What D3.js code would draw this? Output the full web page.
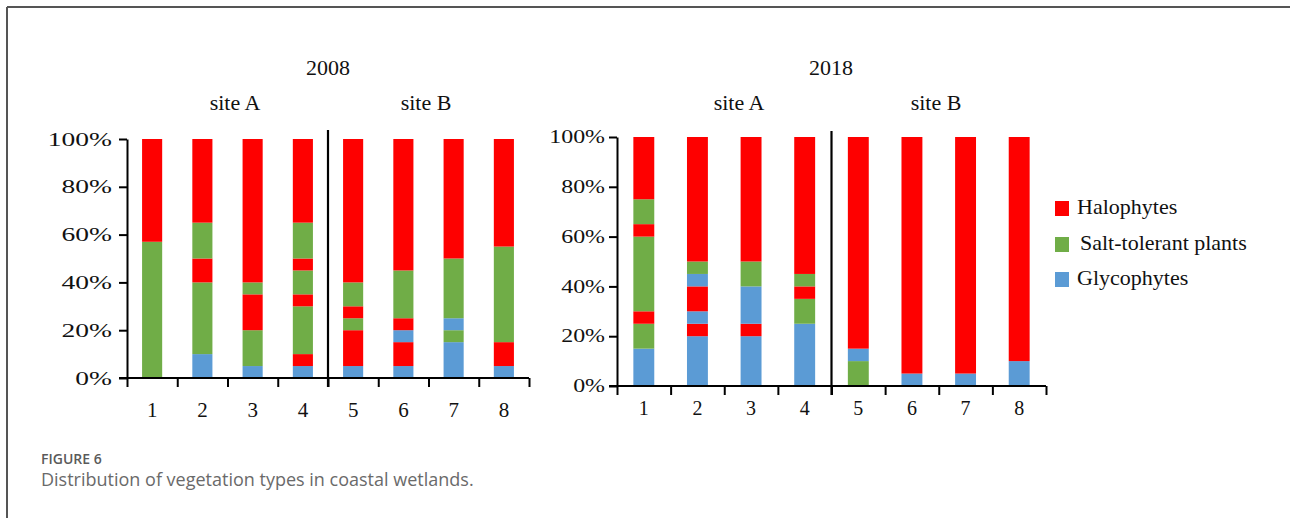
<!DOCTYPE html>
<html>
<head>
<meta charset="utf-8">
<script src="https://cdn.jsdelivr.net/npm/d3@7"></script>
<style>
body{margin:0;background:#fff;}
svg{display:block;}
.serif{font-family:"Liberation Serif","Times New Roman",serif;fill:#111;}
.cap{font-family:"Open Sans","Noto Sans",sans-serif;}
</style>
</head>
<body>
<div id="fig"></div>
<script>
// donnees (% de chaque bande, du bas vers le haut)
const categories = ["1","2","3","4","5","6","7","8"];
const years = ["2008","2018"];
const sites = ["site A","site B"];
const yTicks = [0,20,40,60,80,100];
const types = ["Halophytes","Salt-tolerant plants","Glycophytes"];
const codes = ["H","S","G"];

const bars2008 = [
    [["S",57],["H",43]],
    [["G",10],["S",30],["H",10],["S",15],["H",35]],
    [["G",5],["S",15],["H",15],["S",5],["H",60]],
    [["G",5],["H",5],["S",20],["H",5],["S",10],["H",5],["S",15],["H",35]],
    [["G",5],["H",15],["S",5],["H",5],["S",10],["H",60]],
    [["G",5],["H",10],["G",5],["H",5],["S",20],["H",55]],
    [["G",15],["S",5],["G",5],["S",25],["H",50]],
    [["G",5],["H",10],["S",40],["H",45]]
];
const bars2018 = [
    [["G",15],["S",10],["H",5],["S",30],["H",5],["S",10],["H",25]],
    [["G",20],["H",5],["G",5],["H",10],["G",5],["S",5],["H",50]],
    [["G",20],["H",5],["G",15],["S",10],["H",50]],
    [["G",25],["S",10],["H",5],["S",5],["H",55]],
    [["S",10],["G",5],["H",85]],
    [["G",5],["H",95]],
    [["G",5],["H",95]],
    [["G",10],["H",90]]
];

const couleurs = {H:"#fe0000",S:"#70ad47",G:"#5b9bd5"};
const serif = '"Liberation Serif","Times New Roman",serif';

const svg = d3.select("#fig").append("svg").attr("width",1290).attr("height",518);

// cadre de la page
svg.append("line").attr("x1",7).attr("x2",1290).attr("y1",7).attr("y2",7).attr("stroke","#555").attr("stroke-width",2);
svg.append("line").attr("x1",7).attr("x2",7).attr("y1",7).attr("y2",518).attr("stroke","#555").attr("stroke-width",2);

function cumul(segs){ // transforme les hauteurs en [debut,fin]
    let base = 0, res = [];
    for(let s of segs){
        res.push({code:s[0],y0:base,y1:base+s[1]});
        base += s[1];
    }
    return res;
}

function dessinePanneau(p){
    let x = d3.scaleBand().domain(categories).range([p.x0,p.x1]);
    let xl = d3.scaleLinear().domain([0,categories.length]).range([p.x0,p.x1]);
    let y = d3.scaleLinear().domain([0,100]).range([p.yb,p.yt]);
    let g = svg.append("g");
    let bw = x.bandwidth()*p.bar;

    p.data.forEach((segs,i)=>{
        let cat = categories[i];
        g.selectAll(null).data(cumul(segs)).enter().append("rect")
            .attr("x",x(cat)+(x.bandwidth()-bw)/2)
            .attr("width",bw)
            .attr("y",d=>y(d.y1))
            .attr("height",d=>y(d.y0)-y(d.y1))
            .attr("fill",d=>couleurs[d.code]);
    });

    // axe y
    let ay = g.append("g").attr("transform","translate("+p.x0+",0)")
        .call(d3.axisLeft(y).tickValues(yTicks).tickFormat(d=>d+"%").tickSize(8).tickSizeOuter(0));
    ay.attr("font-family",serif);
    ay.select(".domain").attr("stroke","#000").attr("stroke-width",2);
    ay.selectAll(".tick line").attr("stroke","#000").attr("stroke-width",2);
    ay.selectAll("text").attr("class","serif").style("font-family",serif).attr("font-size",p.yfont)
        .attr("x",-p.ypad/p.ysx).attr("transform","scale("+p.ysx+",1)");

    // axe x : graduations entre les barres
    let ax = g.append("g").attr("transform","translate(0,"+p.yb+")")
        .call(d3.axisBottom(xl).tickValues(d3.range(categories.length+1)).tickFormat("").tickSize(9).tickSizeOuter(0));
    ax.select(".domain").attr("d","M"+(p.x0-8)+",0H"+p.x1).attr("stroke","#000").attr("stroke-width",2);
    ax.selectAll(".tick line").attr("stroke","#000").attr("stroke-width",2);

    g.selectAll(null).data(categories).enter().append("text")
        .attr("class","serif").style("font-family",serif).attr("font-size",p.xfont).attr("text-anchor","middle")
        .attr("x",d=>x(d)+x.bandwidth()/2).attr("y",p.xlab).text(d=>d);

    // separation site A / site B
    let xm = xl(categories.length/2);
    g.append("line").attr("x1",xm).attr("x2",xm).attr("y1",p.ysep).attr("y2",p.yb+9)
        .attr("stroke","#000").attr("stroke-width",2.2);

    g.append("text").attr("class","serif").style("font-family",serif).attr("font-size",22).attr("text-anchor","middle")
        .attr("x",p.titre).attr("y",75).text(p.annee);
    sites.forEach((s,i)=>{
        g.append("text").attr("class","serif").style("font-family",serif).attr("font-size",22).attr("text-anchor","middle")
            .attr("x",p.sites[i]).attr("y",110).text(s);
    });
}

dessinePanneau({data:bars2008,annee:years[0],x0:127,x1:529,yb:378,yt:139,bar:0.4,
    yfont:19,ysx:1.45,ypad:15,xfont:21,xlab:417,ysep:130,titre:328,sites:[235,426]});
dessinePanneau({data:bars2018,annee:years[1],x0:617,x1:1046,yb:386,yt:137,bar:0.39,
    yfont:18,ysx:1.33,ypad:12,xfont:20,xlab:415,ysep:131,titre:831,sites:[739,936]});

// legende
let leg = svg.append("g");
let legY = [201,237,272];
types.forEach((t,i)=>{
    leg.append("rect").attr("x",1055).attr("y",legY[i]).attr("width",14).attr("height",15).attr("fill",couleurs[codes[i]]);
    leg.append("text").attr("class","serif").style("font-family",serif).attr("font-size",22)
        .attr("x",i==1?1080:1077).attr("y",legY[i]+13).text(t);
});

// legende de la figure
svg.append("text").attr("class","cap").attr("x",41).attr("y",464).attr("font-size",14)
    .attr("font-weight",600).attr("fill","#5a5a5a").text("FIGURE 6");
svg.append("text").attr("class","cap").attr("x",41).attr("y",486).attr("font-size",18)
    .attr("fill","#6a6a6a").text("Distribution of vegetation types in coastal wetlands.");
</script>
</body>
</html>
